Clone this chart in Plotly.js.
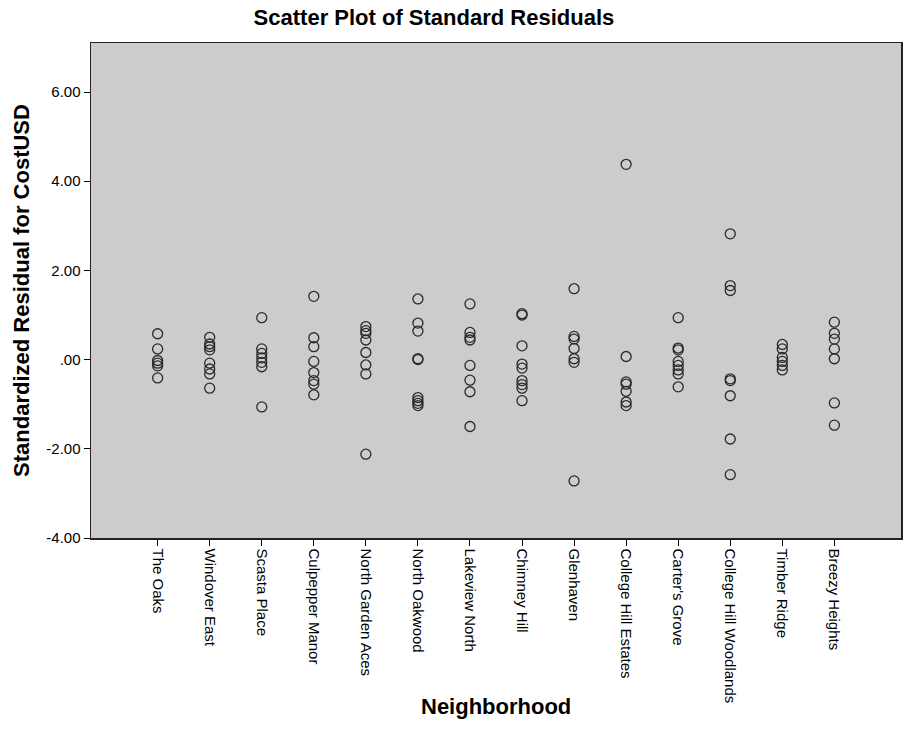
<!DOCTYPE html>
<html>
<head>
<meta charset="utf-8">
<script src="https://cdn.plot.ly/plotly-3.0.1.min.js"></script>
<style>html,body{margin:0;padding:0;background:#fff;}#chart{width:904px;height:747px;}</style>
</head>
<body>
<div id="chart"></div>
<script>
var neighborhoods = ["The Oaks","Windover East","Scasta Place","Culpepper Manor","North Garden Aces","North Oakwood","Lakeview North","Chimney Hill","Glenhaven","College Hill Estates","Carter's Grove","College Hill Woodlands","Timber Ridge","Breezy Heights"];

var theOaks = [0.58, 0.24, -0.02, -0.08, -0.14, -0.41];
var windoverEast = [0.50, 0.35, 0.29, 0.22, -0.08, -0.21, -0.32, -0.64];
var scastaPlace = [0.94, 0.24, 0.14, 0.04, -0.06, -0.16, -1.06];
var culpepperManor = [1.42, 0.49, 0.29, -0.04, -0.29, -0.47, -0.55, -0.79];
var northGardenAces = [0.74, 0.65, 0.59, 0.44, 0.16, -0.12, -0.32, -2.12];
var northOakwood = [1.36, 0.82, 0.64, 0.02, 0.00, -0.85, -0.92, -0.98, -1.03];
var lakeviewNorth = [1.25, 0.61, 0.50, 0.44, -0.13, -0.46, -0.72, -1.50];
var chimneyHill = [1.03, 1.00, 0.31, -0.10, -0.19, -0.47, -0.56, -0.64, -0.92];
var glenhaven = [1.59, 0.52, 0.46, 0.25, 0.02, -0.06, -2.72];
var collegeHillEstates = [4.38, 0.07, -0.50, -0.55, -0.71, -0.95, -1.03];
var cartersGrove = [0.94, 0.26, 0.22, -0.04, -0.13, -0.23, -0.32, -0.61];
var collegeHillWoodlands = [2.82, 1.66, 1.55, -0.43, -0.47, -0.81, -1.78, -2.58];
var timberRidge = [0.34, 0.24, 0.05, -0.04, -0.13, -0.23];
var breezyHeights = [0.84, 0.59, 0.46, 0.24, 0.02, -0.97, -1.47];

var yTickVals = [-4, -2, 0, 2, 4, 6];
var yTickText = ["-4.00", "-2.00", ".00", "2.00", "4.00", "6.00"];

var groups = [theOaks, windoverEast, scastaPlace, culpepperManor, northGardenAces, northOakwood, lakeviewNorth, chimneyHill, glenhaven, collegeHillEstates, cartersGrove, collegeHillWoodlands, timberRidge, breezyHeights];

var xs = [], ys = [];
groups.forEach(function (vals, i) {
  vals.forEach(function (v) { xs.push(neighborhoods[i]); ys.push(v); });
});

var trace = {
  type: "scatter",
  mode: "markers",
  x: xs,
  y: ys,
  marker: {symbol: "circle-open", size: 10, color: "#2a2a2a", line: {width: 1.3, color: "#2a2a2a"}},
  hoverinfo: "x+y",
  showlegend: false
};

var font = "Liberation Sans, Arial, sans-serif";
var layout = {
  width: 904,
  height: 747,
  margin: {l: 91, r: 3, t: 43, b: 209},
  paper_bgcolor: "#ffffff",
  plot_bgcolor: "#cccccc",
  font: {family: font, color: "#000000", size: 15},
  title: {
    text: "<b>Scatter Plot of Standard Residuals</b>",
    font: {family: font, size: 22, color: "#000000"},
    x: 0.48, xref: "container", xanchor: "center",
    y: 1 - 17 / 747, yref: "container", yanchor: "middle"
  },
  xaxis: {
    type: "category",
    categoryorder: "array",
    categoryarray: neighborhoods,
    range: [-1.28, 14.28],
    tickangle: 90,
    ticks: "outside",
    ticklen: 6,
    tickwidth: 1,
    tickcolor: "#000000",
    tickfont: {family: font, size: 15, color: "#000000"},
    showline: true,
    linecolor: "#222222",
    linewidth: 1.5,
    mirror: true,
    showgrid: false,
    zeroline: false
  },
  yaxis: {
    range: [-4, 7.1],
    tickvals: yTickVals,
    ticktext: yTickText,
    ticks: "outside",
    ticklen: 6,
    tickwidth: 1,
    tickcolor: "#000000",
    tickfont: {family: font, size: 15, color: "#000000"},
    showline: true,
    linecolor: "#222222",
    linewidth: 1.5,
    mirror: true,
    showgrid: false,
    zeroline: false,
    title: {text: "<b>Standardized Residual for CostUSD</b>", font: {family: font, size: 22, color: "#000000"}, standoff: 10}
  },
  annotations: [{
    text: "<b>Neighborhood</b>",
    xref: "paper", yref: "paper",
    x: 0.5, y: (538 - 706) / 495,
    xanchor: "center", yanchor: "middle",
    showarrow: false,
    font: {family: font, size: 22, color: "#000000"}
  }]
};

Plotly.newPlot("chart", [trace], layout, {displayModeBar: false, staticPlot: true});
</script>
</body>
</html>
